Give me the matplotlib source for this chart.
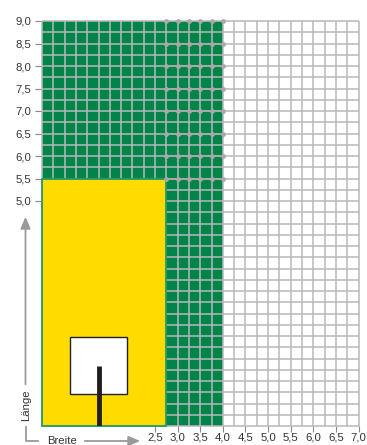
import matplotlib
matplotlib.use("Agg")
import matplotlib.pyplot as plt
import matplotlib.patches as mpatches
import numpy as np

plt.rcParams['font.family'] = ['Liberation Sans', 'DejaVu Sans']

# ---- data ----
x_ticks = [2.5, 3.0, 3.5, 4.0, 4.5, 5.0, 5.5, 6.0, 6.5, 7.0]
x_labels = ["2,5", "3,0", "3,5", "4,0", "4,5", "5,0", "5,5", "6,0", "6,5", "7,0"]
y_ticks = [5.0, 5.5, 6.0, 6.5, 7.0, 7.5, 8.0, 8.5, 9.0]
y_labels = ["5,0", "5,5", "6,0", "6,5", "7,0", "7,5", "8,0", "8,5", "9,0"]
green_area = (0.0, 0.0, 4.0, 9.0)       # x, y, width, height
yellow_area = (0.0, 0.0, 2.75, 5.5)
white_square = (0.62, 0.71, 1.26, 1.27)
stick_x = 1.26
stick_top = 1.33
dot_x = [2.75, 3.0, 3.25, 3.5, 3.75, 4.0]
dot_y = [5.5, 6.0, 6.5, 7.0, 7.5, 8.0, 8.5, 9.0]
grid_step = 0.25
x_max, y_max = 7.0, 9.0
x_title = "Breite"
y_title = "Länge"

W, H = 367, 445
fig = plt.figure(figsize=(W / 100, H / 100), dpi=100)

left, right, top, bottom = 42, 358.5, 21, 426
ax = fig.add_axes([left / W, (H - bottom) / H, (right - left) / W, (bottom - top) / H])
ax.set_xlim(0, x_max)
ax.set_ylim(0, y_max)
for s in ax.spines.values():
    s.set_visible(False)

GREEN = '#00844a'
YELLOW = '#ffdb00'
GRID = '#b8b8b8'

ax.add_patch(mpatches.Rectangle(green_area[:2], green_area[2], green_area[3],
                                facecolor=GREEN, edgecolor='none', zorder=1))
gx = np.arange(0, x_max + 1e-9, grid_step)
gy = np.arange(0, y_max + 1e-9, grid_step)
ax.vlines(gx, 0, y_max, colors=GRID, linewidth=1.1, zorder=2, clip_on=False)
ax.hlines(gy, 0, x_max, colors=GRID, linewidth=1.1, zorder=2, clip_on=False)

ax.add_patch(mpatches.Rectangle(yellow_area[:2], yellow_area[2], yellow_area[3],
                                facecolor=YELLOW, edgecolor='#13946a', linewidth=1.2,
                                zorder=3, clip_on=False))
ax.add_patch(mpatches.Rectangle(white_square[:2], white_square[2], white_square[3],
                                facecolor='white', edgecolor='#222222', linewidth=1.0, zorder=4))
ax.vlines([stick_x], 0, stick_top, colors='#231f20', linewidth=3.5, zorder=5)

# dotted rows
for yv in dot_y:
    ax.hlines(yv, dot_x[0], dot_x[-1], colors='#a8a8a8', linewidth=1.4, zorder=5)
DX, DY = np.meshgrid(dot_x, dot_y)
ax.scatter(DX.ravel(), DY.ravel(), s=12, color='#a8a8a8', zorder=6, clip_on=False, linewidths=0)

ax.set_xticks(x_ticks)
ax.set_xticklabels(x_labels)
ax.set_yticks(y_ticks)
ax.set_yticklabels(y_labels)
ax.tick_params(axis='both', colors='#888888', labelcolor='#333333', labelsize=8.2,
               length=5, width=0.8)
ax.tick_params(axis='x', length=4, pad=0.5)
ax.tick_params(axis='y', pad=3)

# overlay for the axis arrows
ov = fig.add_axes([0, 0, 1, 1])
ov.set_xlim(0, W)
ov.set_ylim(H, 0)
ov.axis('off')
AC = '#9a9a9a'
ov.annotate('', xy=(25.5, 214), xytext=(25.5, 387),
            arrowprops=dict(arrowstyle='-|>,head_length=0.7,head_width=0.3', color=AC, lw=1.3))
ov.plot([25.5, 25.5, 38], [427, 441, 441], color=AC, lw=1.3)
ov.annotate('', xy=(143, 441), xytext=(82, 441),
            arrowprops=dict(arrowstyle='-|>,head_length=0.7,head_width=0.3', color=AC, lw=1.3))
ov.text(26, 405, y_title, rotation=90, ha='center', va='center', fontsize=8.2, color='#333333')
ov.text(62, 443.5, x_title, ha='center', va='baseline', fontsize=8.2, color='#333333')

fig.savefig('out.png', dpi=100)
